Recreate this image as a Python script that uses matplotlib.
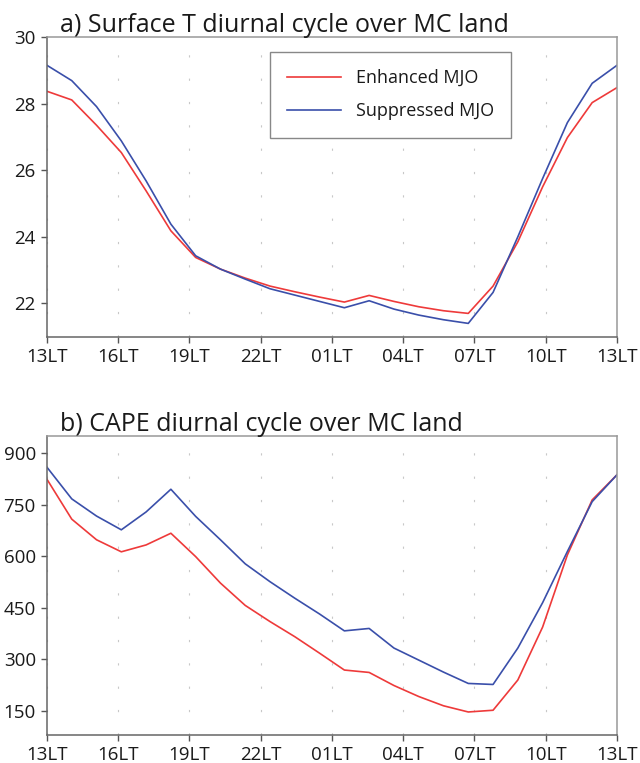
import numpy as np
import matplotlib.pyplot as plt

plt.rcParams['font.family'] = ['Open Sans', 'DejaVu Sans']

# hourly means, 13LT through 13LT next day
t_enhanced = [28.37, 28.11, 27.35, 26.53, 25.38, 24.18, 23.38, 23.03, 22.76, 22.52, 22.35, 22.19,
              22.04, 22.24, 22.06, 21.90, 21.78, 21.70, 22.52, 23.85, 25.50, 26.98, 28.03, 28.48]
t_suppressed = [29.15, 28.69, 27.91, 26.88, 25.68, 24.38, 23.43, 23.03, 22.73, 22.44, 22.25, 22.06,
                21.87, 22.08, 21.83, 21.65, 21.51, 21.40, 22.33, 24.00, 25.75, 27.43, 28.61, 29.15]
cape_enhanced = [824, 708, 648, 613, 633, 667, 599, 522, 457, 410, 366, 318,
                 269, 262, 224, 192, 165, 147, 152, 240, 394, 604, 764, 837]
cape_suppressed = [859, 767, 717, 677, 729, 795, 716, 648, 578, 526, 478, 432,
                   383, 390, 333, 298, 263, 230, 227, 333, 465, 614, 759, 837]
tick_labels = ['13LT', '16LT', '19LT', '22LT', '01LT', '04LT', '07LT', '10LT', '13LT']

x = np.linspace(0, 24, len(t_enhanced))
red = '#EE3A3A'
blue = '#3A4FAA'

fig = plt.figure(figsize=(6.4, 7.63), dpi=100)
ax1 = fig.add_axes([0.0734, 0.5587, 0.8906, 0.3928])
ax2 = fig.add_axes([0.0734, 0.0367, 0.8906, 0.3919])


def style(ax, title):
    ax.set_xlim(0, 24)
    ax.set_xticks(np.arange(0, 25, 3))
    ax.set_xticklabels(tick_labels)
    ax.grid(axis='x', color='#c8c8c8', linestyle=(0, (2, 19)), linewidth=0.8)
    ax.tick_params(direction='out', length=4.5, width=1, color='#555555',
                   labelsize=13.5, labelcolor='#1a1a1a', pad=3.5)
    for side in ['left', 'bottom']:
        ax.spines[side].set_color('#666666')
    for side in ['top', 'right']:
        ax.spines[side].set_color('#999999')
    for sp in ax.spines.values():
        sp.set_linewidth(1.1)
    ax.text(0.022, 1.018, title, transform=ax.transAxes, fontsize=18,
            color='#1a1a1a', ha='left', va='baseline')


ax1.plot(x, t_enhanced, color=red, lw=1.2, label='Enhanced MJO')
ax1.plot(x, t_suppressed, color=blue, lw=1.2, label='Suppressed MJO')
ax1.set_ylim(21, 30)
ax1.set_yticks([22, 24, 26, 28, 30])
style(ax1, 'a) Surface T diurnal cycle over MC land')
leg = ax1.legend(loc='upper left', bbox_to_anchor=(0.391, 0.95), fontsize=13,
                 handlelength=3.0, handletextpad=0.8, labelspacing=0.85,
                 borderpad=0.95, borderaxespad=0, fancybox=False, framealpha=1)
leg.get_frame().set_edgecolor('#888888')
leg.get_frame().set_linewidth(1.0)
for t in leg.get_texts():
    t.set_color('#1a1a1a')

ax2.plot(x, cape_enhanced, color=red, lw=1.2)
ax2.plot(x, cape_suppressed, color=blue, lw=1.2)
ax2.set_ylim(80, 950)
ax2.set_yticks([150, 300, 450, 600, 750, 900])
style(ax2, 'b) CAPE diurnal cycle over MC land')

fig.savefig('out.png', dpi=100)
